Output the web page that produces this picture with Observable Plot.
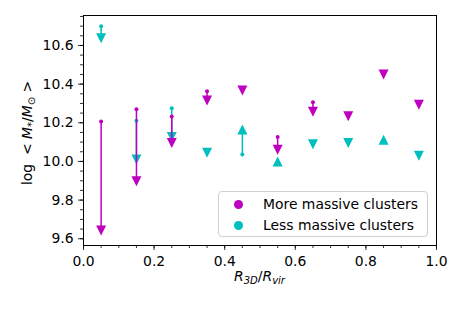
<!DOCTYPE html>
<html><head><meta charset="utf-8">
<script src="https://cdn.jsdelivr.net/npm/d3@7"></script>
<script src="https://cdn.jsdelivr.net/npm/@observablehq/plot@0.6"></script>
<style>
body{margin:0;background:#fff;font-family:"DejaVu Sans",sans-serif;}
#wrap{position:relative;width:463px;height:310px;}
#legend{position:absolute;left:218px;top:191px;width:208px;height:44px;border:1px solid #d0d0d0;border-radius:4px;background:rgba(255,255,255,0.8);font-size:13.9px;}
.li{position:absolute;left:0;height:20px;display:flex;align-items:center;}
.sw{width:9px;height:9px;border-radius:50%;margin-left:15px;margin-right:20px;}
</style>
</head><body>
<div id="wrap"><div id="chart"></div>
<div id="legend"></div></div>
<script>
const radius = [0.05,0.15,0.25,0.35,0.45,0.55,0.65,0.75,0.85,0.95];
const moreStart = [10.207,10.270,10.233,10.363,10.372,10.126,10.306,10.240,10.455,10.298];
const moreEnd   = [9.642, 9.898,10.095,10.315,10.367,10.060,10.257,10.234,10.450,10.293];
const lessStart = [10.699,10.210,10.275,10.060,10.036,9.994,10.095,10.100,10.107,10.035];
const lessEnd   = [10.637,10.010,10.126,10.045,10.165,10.000,10.089,10.095,10.112,10.029];
const groups = ["More massive clusters","Less massive clusters"];
const colors = ["#bf00bf","#00bfbf"];
const xMajor = [0,0.2,0.4,0.6,0.8,1.0];
const xMinor = d3.range(0,1.0001,0.05);
const yMajor = [9.6,9.8,10.0,10.2,10.4,10.6];
const yMinor = d3.range(9.6,10.751,0.05);

const rows = [];
radius.forEach((x,i)=>{
  rows.push({x, start:lessStart[i], end:lessEnd[i], g:groups[1]});
});
radius.forEach((x,i)=>{
  rows.push({x, start:moreStart[i], end:moreEnd[i], g:groups[0]});
});

const triDown = {draw(ctx,size){const s=Math.sqrt(size/Math.PI);ctx.moveTo(0,s);ctx.lineTo(-s,-s);ctx.lineTo(s,-s);ctx.closePath();}};
const triUp = {draw(ctx,size){const s=Math.sqrt(size/Math.PI);ctx.moveTo(0,-s);ctx.lineTo(-s,s);ctx.lineTo(s,s);ctx.closePath();}};

const marks = [];
for (const g of [groups[1], groups[0]]) {
  const sub = rows.filter(d=>d.g===g);
  const c = colors[groups.indexOf(g)];
  marks.push(Plot.dot(sub,{x:"x",y:"start",r:2,fill:c,stroke:"none"}));
  marks.push(Plot.link(sub,{x1:"x",x2:"x",y1:"start",y2:"end",stroke:c,strokeWidth:1.5}));
  marks.push(Plot.dot(sub.filter(d=>d.end<d.start),{x:"x",y:"end",r:5,symbol:triDown,fill:c,stroke:"none"}));
  marks.push(Plot.dot(sub.filter(d=>d.end>=d.start),{x:"x",y:"end",r:5,symbol:triUp,fill:c,stroke:"none"}));
}

const chart = Plot.plot({
  width:463, height:310,
  marginLeft:83, marginRight:27, marginTop:15, marginBottom:65,
  style:{fontFamily:"DejaVu Sans",fontSize:"13.9px",background:"white",color:"black"},
  x:{domain:[0,1]},
  y:{domain:[9.565,10.755]},
  marks:[
    Plot.axisX({ticks:xMinor,tickSize:3,tickFormat:()=>"",label:null,strokeWidth:0.8}),
    Plot.axisX({ticks:xMajor,tickSize:5,tickPadding:6,tickFormat:d=>d.toFixed(1),label:null,fontSize:13.9,strokeWidth:0.8}),
    Plot.axisY({ticks:yMinor,tickSize:3,tickFormat:()=>"",label:null,strokeWidth:0.8}),
    Plot.axisY({ticks:yMajor,tickSize:5,tickPadding:5,tickFormat:d=>d.toFixed(1),label:null,fontSize:13.9,strokeWidth:0.8}),
    ...marks,
    Plot.frame({stroke:"black",strokeWidth:1})
  ]
});
document.getElementById("chart").appendChild(chart);

const svg = d3.select(chart);
// x label
const xl = svg.append("text").attr("x",259.5).attr("y",281).attr("text-anchor","middle")
  .attr("font-family","DejaVu Sans").attr("font-size",13.9).attr("fill","black");
xl.append("tspan").attr("font-style","italic").text("R");
xl.append("tspan").attr("font-style","italic").attr("font-size",10).attr("dy",3).text("3D");
xl.append("tspan").attr("dy",-3).text("/");
xl.append("tspan").attr("font-style","italic").text("R");
xl.append("tspan").attr("font-style","italic").attr("font-size",10).attr("dy",3).text("vir");
// y label
const yl = svg.append("text").attr("transform","translate(32,133) rotate(-90)").attr("text-anchor","middle")
  .attr("font-family","DejaVu Sans").attr("font-size",13.9).attr("fill","black");
yl.append("tspan").text("log  < ");
yl.append("tspan").attr("font-style","italic").text("M");
yl.append("tspan").attr("font-style","italic").attr("font-size",10).attr("dy",3).text("*");
yl.append("tspan").attr("dy",-3).text("/");
yl.append("tspan").attr("font-style","italic").text("M");
yl.append("tspan").attr("font-size",10).attr("dy",3).text("⊙");
yl.append("tspan").attr("dy",-3).text(" >");

// legend
const lg = document.getElementById("legend");
groups.forEach((g,i)=>{
  const it = document.createElement("div");
  it.className="li"; it.style.top=(2+i*21)+"px";
  it.innerHTML=`<div class="sw" style="background:${colors[i]}"></div><span>${g}</span>`;
  lg.appendChild(it);
});
</script>
</body></html>
